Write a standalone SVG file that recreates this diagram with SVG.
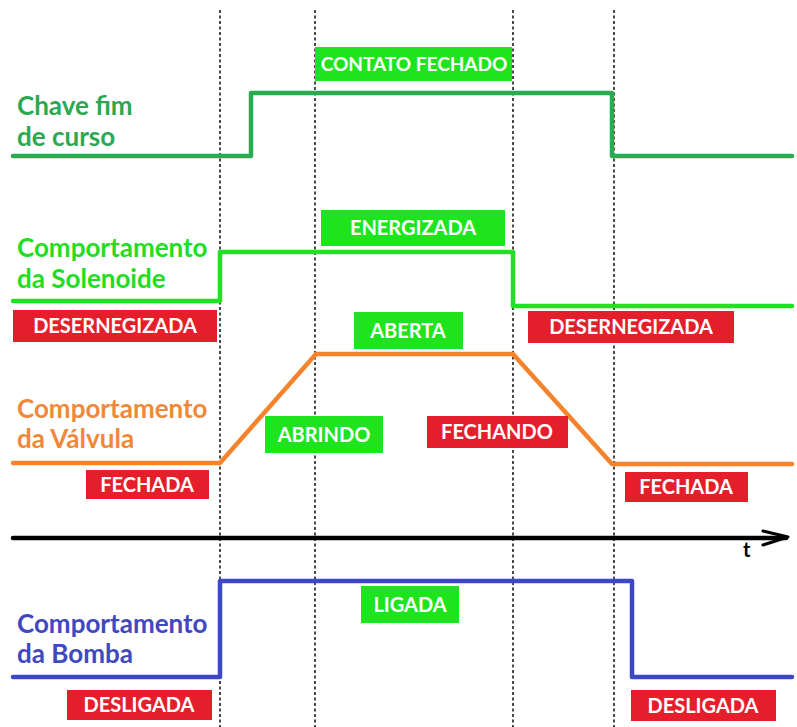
<svg xmlns="http://www.w3.org/2000/svg" width="797" height="727" viewBox="0 0 797 727">
<style>
.lbl{font-family:Lato,"Open Sans","Liberation Sans",sans-serif;font-weight:bold;font-size:26px}
.bt{font-family:Lato,"Open Sans","Liberation Sans",sans-serif;font-weight:bold;font-size:20px;fill:#fff;text-anchor:middle}
.gb{fill:#1ee41e}
.rb{fill:#e41f2b}
.dash{stroke:#4a4a4a;stroke-width:2;stroke-dasharray:3 2.5;fill:none}
.sig{fill:none;stroke-width:4.5;stroke-linejoin:round;stroke-linecap:round}
</style>
<rect width="797" height="727" fill="#fff"/>
<g id="guides">
<line class="dash" x1="220" y1="10" x2="220" y2="727"/>
<line class="dash" x1="315" y1="10" x2="315" y2="727"/>
<line class="dash" x1="513" y1="10" x2="513" y2="727"/>
<line class="dash" x1="614" y1="10" x2="614" y2="727"/>
</g>
<g id="connectors">
<polyline class="sig" stroke="#2aac4e" points="13,156 251,156 251,93 612,93 612,156 792,156"/>
<polyline class="sig" stroke="#22e022" points="13,301 220,301 220,252 513,252 513,306 792,306"/>
<polyline class="sig" stroke="#f5832b" points="13,463 220,463 316,354 513,354 612,464 792,464"/>
<polyline class="sig" stroke="#3c48c8" points="13,677 220,677 220,581 632,581 632,677 792,677"/>
</g>
<g id="axis">
<line x1="13" y1="538" x2="786" y2="538" stroke="#000" stroke-width="4.5" stroke-linecap="round"/>
<polyline points="763,531 788,537 763,545" fill="none" stroke="#000" stroke-width="3" stroke-linecap="round" stroke-linejoin="round"/>
<text x="743" y="557" font-family="Lato,'Liberation Sans',sans-serif" font-weight="bold" font-size="20" fill="#000">t</text>
</g>
<g id="chave">
<text class="lbl" fill="#2aa852" x="17" y="115">Chave fim</text>
<text class="lbl" fill="#2aa852" x="17" y="146">de curso</text>
</g>
<g id="contato-fechado">
<rect class="gb" x="315" y="47" width="197" height="34"/>
<text class="bt" x="414" y="71" font-size="19" style="font-size:19px">CONTATO FECHADO</text>
</g>
<g id="solenoide">
<text class="lbl" fill="#22dd22" x="17" y="257">Comportamento</text>
<text class="lbl" fill="#22dd22" x="17" y="288">da Solenoide</text>
</g>
<g id="energizada">
<rect class="gb" x="321" y="210" width="184" height="36"/>
<text class="bt" x="413" y="235">ENERGIZADA</text>
</g>
<g id="desernegizada-1">
<rect class="rb" x="13" y="310" width="204" height="32"/>
<text class="bt" x="115" y="333">DESERNEGIZADA</text>
</g>
<g id="desernegizada-2">
<rect class="rb" x="528" y="311" width="206" height="32"/>
<text class="bt" x="631" y="334">DESERNEGIZADA</text>
</g>
<g id="aberta">
<rect class="gb" x="354" y="312" width="109" height="37"/>
<text class="bt" x="408" y="338">ABERTA</text>
</g>
<g id="valvula">
<text class="lbl" fill="#f0883a" x="17" y="418">Comportamento</text>
<text class="lbl" fill="#f0883a" x="17" y="448">da Válvula</text>
</g>
<g id="abrindo">
<rect class="gb" x="265" y="416" width="118" height="37"/>
<text class="bt" x="324" y="442">ABRINDO</text>
</g>
<g id="fechando">
<rect class="rb" x="427" y="416" width="141" height="32"/>
<text class="bt" x="497" y="439">FECHANDO</text>
</g>
<g id="fechada-1">
<rect class="rb" x="86" y="470" width="123" height="29"/>
<text class="bt" x="147" y="492">FECHADA</text>
</g>
<g id="fechada-2">
<rect class="rb" x="625" y="472" width="123" height="30"/>
<text class="bt" x="686" y="494">FECHADA</text>
</g>
<g id="bomba">
<text class="lbl" fill="#4048c0" x="17" y="633">Comportamento</text>
<text class="lbl" fill="#4048c0" x="17" y="663">da Bomba</text>
</g>
<g id="ligada">
<rect class="gb" x="361" y="586" width="98" height="37"/>
<text class="bt" x="410" y="612">LIGADA</text>
</g>
<g id="desligada-1">
<rect class="rb" x="67" y="690" width="145" height="30"/>
<text class="bt" x="139" y="712">DESLIGADA</text>
</g>
<g id="desligada-2">
<rect class="rb" x="631" y="690" width="145" height="31"/>
<text class="bt" x="703" y="713">DESLIGADA</text>
</g>
</svg>
